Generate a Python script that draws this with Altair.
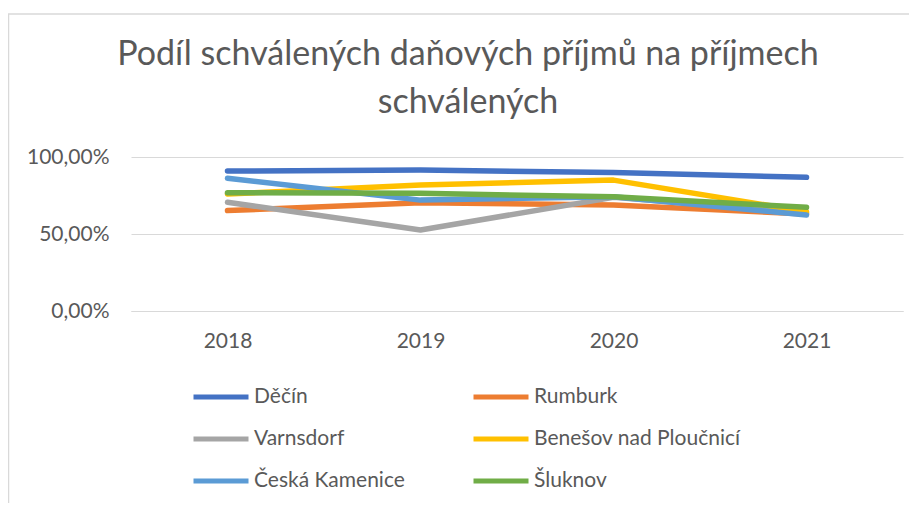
import altair as alt
import pandas as pd

years = ["2018", "2019", "2020", "2021"]
series = ["Děčín", "Rumburk", "Varnsdorf", "Benešov nad Ploučnicí", "Česká Kamenice", "Šluknov"]
colors = ["#4472C4", "#ED7D31", "#A5A5A5", "#FFC000", "#5B9BD5", "#70AD47"]
values = {
    "Děčín": [0.909, 0.915, 0.90, 0.868],
    "Rumburk": [0.652, 0.703, 0.688, 0.63],
    "Varnsdorf": [0.706, 0.526, 0.738, 0.64],
    "Benešov nad Ploučnicí": [0.76, 0.818, 0.85, 0.645],
    "Česká Kamenice": [0.862, 0.72, 0.742, 0.623],
    "Šluknov": [0.768, 0.764, 0.742, 0.673],
}
title_lines = ["Podíl schválených daňových příjmů na příjmech", "schválených"]

rows = []
for s in series:
    for y, v in zip(years, values[s]):
        rows.append({"Rok": y, "Obec": s, "Hodnota": v})
df = pd.DataFrame(rows)

FONT = "Lato"
TXT = "#595959"
GRID = "#D9D9D9"

lines = alt.Chart(df).mark_line(strokeWidth=5.5, strokeCap="round", strokeJoin="round").encode(
    x=alt.X("Rok:O", sort=years, title=None,
            scale=alt.Scale(type="point", padding=0.5),
            axis=alt.Axis(labelAngle=0, labelFontSize=21, labelColor=TXT, labelFont=FONT,
                          labelPadding=19, ticks=False, domain=True, domainColor=GRID,
                          domainWidth=1, grid=False)),
    y=alt.Y("Hodnota:Q", title=None,
            scale=alt.Scale(domain=[0, 1], nice=False),
            axis=alt.Axis(values=[0, 0.5, 1], labelFontSize=21, labelColor=TXT, labelFont=FONT,
                          labelExpr="replace(format(datum.value, '.2%'), '.', ',')",
                          labelPadding=22, ticks=False, domain=False, grid=True,
                          gridColor=GRID, gridWidth=1)),
    color=alt.Color("Obec:N", sort=series,
                    scale=alt.Scale(domain=series, range=colors),
                    legend=alt.Legend(title=None, orient="none", legendX=60, legendY=210,
                                      direction="horizontal",
                                      columns=2, symbolType="stroke", symbolSize=3025,
                                      symbolStrokeWidth=5, labelFontSize=21, labelFont=FONT,
                                      labelColor=TXT, labelOffset=3, rowPadding=2,
                                      columnPadding=58, padding=0, labelLimit=400)),
    order=alt.Order("Rok:O"),
)

border = alt.Chart(pd.DataFrame({"a": [0]})).mark_rect(fill=None, stroke=GRID, strokeWidth=1.5).encode(
    x=alt.value(-122.5), x2=alt.value(800), y=alt.value(-143), y2=alt.value(400)
)

t1 = alt.Chart(pd.DataFrame({"t": [title_lines[0]]})).mark_text(
    font=FONT, fontSize=34, color=TXT, align="center", baseline="alphabetic"
).encode(text="t:N", x=alt.value(337), y=alt.value(-92))
t2 = alt.Chart(pd.DataFrame({"t": [title_lines[1]]})).mark_text(
    font=FONT, fontSize=34, color=TXT, align="center", baseline="alphabetic"
).encode(text="t:N", x=alt.value(337), y=alt.value(-44))

chart = alt.layer(border, t1, t2, lines).properties(
    width=772,
    height=154,
    autosize=alt.AutoSizeParams(type="none"),
    padding={"left": 123, "top": 149, "right": 6, "bottom": 192},
).configure(background="white").configure_view(stroke=None)

chart.save("out.html", embed_options={"renderer": "svg", "actions": False})
